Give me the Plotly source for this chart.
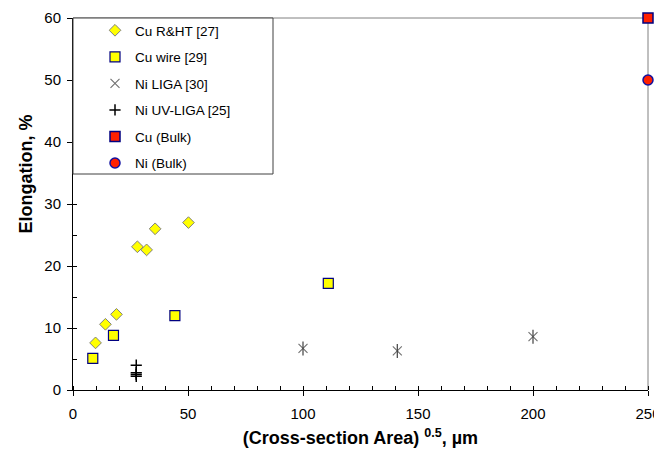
import plotly.graph_objects as go

# ---- data ----
cu_rht_x = [9.8, 14.1, 18.9, 28.0, 32.0, 35.7, 50.2]
cu_rht_y = [7.6, 10.6, 12.2, 23.1, 22.6, 26.0, 27.0]

cu_wire_x = [8.6, 17.6, 44.3, 111.0]
cu_wire_y = [5.1, 8.8, 12.0, 17.2]

ni_liga_x = [100.0, 141.0, 200.0]
ni_liga_y = [6.7, 6.3, 8.6]

ni_uvliga_x = [27.5, 27.5, 27.5, 27.5]
ni_uvliga_y = [4.0, 2.8, 2.5, 2.2]

cu_bulk_x = [250.0]
cu_bulk_y = [60.0]

ni_bulk_x = [250.0]
ni_bulk_y = [50.0]

x_ticks = [0, 50, 100, 150, 200, 250]
y_ticks = [0, 10, 20, 30, 40, 50, 60]

FONT = "Liberation Sans, Arial, sans-serif"

fig = go.Figure()

fig.add_trace(go.Scatter(
    x=cu_rht_x, y=cu_rht_y, mode="markers", name="Cu R&HT [27]",
    legendgroup="a", cliponaxis=False,
    marker=dict(symbol="diamond", size=9, color="#FFFF00",
                line=dict(color="#808080", width=1))))

fig.add_trace(go.Scatter(
    x=cu_wire_x, y=cu_wire_y, mode="markers", name="Cu wire [29]",
    legendgroup="b", cliponaxis=False,
    marker=dict(symbol="square", size=10, color="#FFFF00",
                line=dict(color="#000080", width=1.2))))

fig.add_trace(go.Scatter(
    x=ni_liga_x, y=ni_liga_y, mode="markers", name="Ni LIGA [30]",
    legendgroup="c", cliponaxis=False,
    marker=dict(symbol="x-thin-open", size=9, color="#707070",
                line=dict(color="#707070", width=1.1))))
fig.add_trace(go.Scatter(
    x=ni_liga_x, y=ni_liga_y, mode="markers", name="Ni LIGA [30]",
    legendgroup="c", showlegend=False, cliponaxis=False,
    marker=dict(symbol="line-ns-open", size=10, color="#404040",
                line=dict(color="#404040", width=1.2))))

fig.add_trace(go.Scatter(
    x=ni_uvliga_x, y=ni_uvliga_y, mode="markers", name="Ni UV-LIGA [25]",
    legendgroup="d", cliponaxis=False,
    marker=dict(symbol="cross-thin-open", size=8, color="#000000",
                line=dict(color="#000000", width=1.5))))

fig.add_trace(go.Scatter(
    x=cu_bulk_x, y=cu_bulk_y, mode="markers", name="Cu (Bulk)",
    legendgroup="e", cliponaxis=False,
    marker=dict(symbol="square", size=10, color="#FF2000",
                line=dict(color="#000080", width=1.5))))

fig.add_trace(go.Scatter(
    x=ni_bulk_x, y=ni_bulk_y, mode="markers", name="Ni (Bulk)",
    legendgroup="f", cliponaxis=False,
    marker=dict(symbol="circle", size=10, color="#FF2000",
                line=dict(color="#1010A0", width=1.5))))

# page body adds an 8px offset; positions below are window pixels minus that
OFF = 8
W, H = 662, 459
PL, PR, PT, PB = 73, 648, 18, 390          # plot box in window pixels
L, T = PL - OFF, PT - OFF
R, B = W - (PR - OFF), H - (PB - OFF)
pw, ph = W - L - R, H - T - B


def px(x):
    return (x - PL) / pw


def py(y):
    return (PB - y) / ph


fig.update_layout(
    width=W, height=H,
    margin=dict(l=L, r=R, t=T, b=B, autoexpand=False),
    paper_bgcolor="white", plot_bgcolor="white",
    font=dict(family=FONT, size=15, color="#000000"),
    showlegend=True,
    legend=dict(
        x=px(95), y=py(15), xanchor="left", yanchor="top",
        bgcolor="rgba(0,0,0,0)", borderwidth=0,
        font=dict(family=FONT, size=13.5, color="#000000"),
        tracegroupgap=6, itemsizing="trace"),
    xaxis=dict(
        range=[0, 250], tickvals=x_ticks, ticktext=[str(v) for v in x_ticks],
        showgrid=False, zeroline=False, automargin=False,
        showline=True, linecolor="#000000", linewidth=1,
        ticks="outside", ticklen=5, tickcolor="#000000",
        ticklabelstandoff=5,
        minor=dict(dtick=10, ticks="inside", ticklen=4, tickcolor="#000000", showgrid=False),
        tickfont=dict(family=FONT, size=15, color="#000000"),
        title=dict(text="<b>(Cross-section Area) <sup>0.5</sup>, µm</b>",
                   font=dict(family=FONT, size=18, color="#000000"), standoff=10)),
    yaxis=dict(
        range=[0, 60], tickvals=y_ticks, ticktext=[str(v) for v in y_ticks],
        showgrid=False, zeroline=False, automargin=False,
        showline=True, linecolor="#000000", linewidth=1,
        ticks="outside", ticklen=5, tickcolor="#000000",
        ticklabelstandoff=3,
        minor=dict(dtick=5, ticks="inside", ticklen=4, tickcolor="#000000", showgrid=False),
        tickfont=dict(family=FONT, size=15, color="#000000")),
    shapes=[
        dict(type="line", xref="paper", yref="paper", x0=0, x1=1, y0=1, y1=1,
             line=dict(color="#808080", width=1), layer="below"),
        dict(type="line", xref="paper", yref="paper", x0=1, x1=1, y0=0, y1=1,
             line=dict(color="#808080", width=1), layer="below"),
        dict(type="rect", xref="paper", yref="paper",
             x0=0, x1=px(273), y0=py(174), y1=1,
             line=dict(color="#404040", width=1), fillcolor="white", layer="above"),
    ],
    annotations=[
        dict(text="<b>Elongation, %</b>", xref="paper", yref="paper",
             x=px(25), y=py(173.5), textangle=-90,
             showarrow=False, xanchor="center", yanchor="middle",
             font=dict(family=FONT, size=18, color="#000000")),
    ],
)

fig.write_html("out.html")
